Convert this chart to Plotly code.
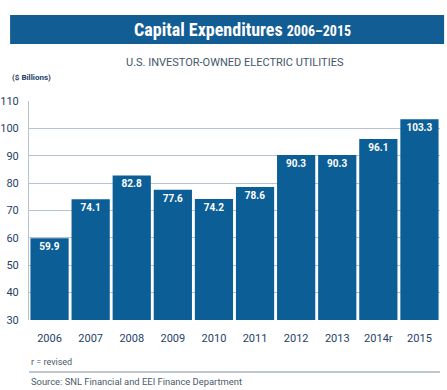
import plotly.graph_objects as go

years = ["2006", "2007", "2008", "2009", "2010", "2011", "2012", "2013", "2014r", "2015"]
values = [59.9, 74.1, 82.8, 77.6, 74.2, 78.6, 90.3, 90.3, 96.1, 103.3]
yticks = [30, 40, 50, 60, 70, 80, 90, 100, 110]

bar_color = "#0b5e96"
navy = "#1f3f66"

fig = go.Figure()
fig.add_trace(go.Bar(
    x=years, y=values,
    marker=dict(color=bar_color, line=dict(width=0)),
    text=[f"{v:.1f}" for v in values],
    textposition="inside", insidetextanchor="end",
    textfont=dict(color="white", size=10, family="Roboto"),
    texttemplate="<b>%{text}</b>",
    cliponaxis=False,
))

fig.update_layout(
    width=447, height=390,
    margin=dict(l=29, r=7, t=101, b=70, autoexpand=False),
    paper_bgcolor="white", plot_bgcolor="white",
    showlegend=False, bargap=0.07,
    font=dict(family="Roboto", color=navy),
    xaxis=dict(
        tickfont=dict(size=11, color=navy, family="Roboto"), ticks="",
        showline=False, ticklabelstandoff=10, automargin=False,
    ),
    yaxis=dict(
        range=[30, 110], tickvals=yticks, showgrid=True,
        gridcolor="#b7c3cf", gridwidth=1,
        tickfont=dict(size=11, color=navy, family="Roboto"),
        showline=True, linecolor="#b7c3cf", linewidth=1, zeroline=False,
        ticks="", ticklabelstandoff=7, automargin=False,
    ),
    shapes=[
        dict(type="rect", xref="paper", yref="paper", x0=-0.046, x1=1.01,
             y0=(390 - 70 - 44) / 219, y1=(390 - 70 - 15) / 219,
             fillcolor="#135d95", line=dict(width=0), layer="below"),
        dict(type="line", xref="paper", yref="paper", x0=0.0, x1=1.0,
             y0=-(372 - 320) / 219, y1=-(372 - 320) / 219,
             line=dict(color="#7f8e9c", width=1)),
    ],
    annotations=[
        dict(text="<b>Capital Expenditures</b> <b><span style='font-size:14px'>2006–2015</span></b>",
             xref="paper", yref="paper", x=0.52, y=(390 - 70 - 29.5) / 219,
             showarrow=False, font=dict(size=18, color="white", family="Roboto Condensed, Roboto"),
             xanchor="center", yanchor="middle"),
        dict(text="U.S. INVESTOR-OWNED ELECTRIC UTILITIES", xref="paper", yref="paper",
             x=0.5, y=(390 - 70 - 63) / 219, showarrow=False,
             font=dict(size=11, color="#44566a", family="Roboto"), xanchor="center", yanchor="middle"),
        dict(text="<b>($ Billions)</b>", xref="paper", yref="paper",
             x=-19 / 411, y=(390 - 70 - 78) / 219, showarrow=False,
             font=dict(size=8, color=navy, family="Roboto"), xanchor="left", yanchor="middle"),
        dict(text="r = revised", xref="paper", yref="paper",
             x=0.0, y=-(362 - 320) / 219, showarrow=False,
             font=dict(size=9, color="#4a5a6a", family="Roboto"), xanchor="left", yanchor="middle"),
        dict(text="Source: SNL Financial and EEI Finance Department", xref="paper", yref="paper",
             x=0.0, y=-(381 - 320) / 219, showarrow=False,
             font=dict(size=9.4, color="#4a5a6a", family="Roboto"), xanchor="left", yanchor="middle"),
    ],
)

fig.write_html("out.html", config={"displayModeBar": False},
               post_script="document.body.style.margin='0';document.body.style.overflow='hidden';")
